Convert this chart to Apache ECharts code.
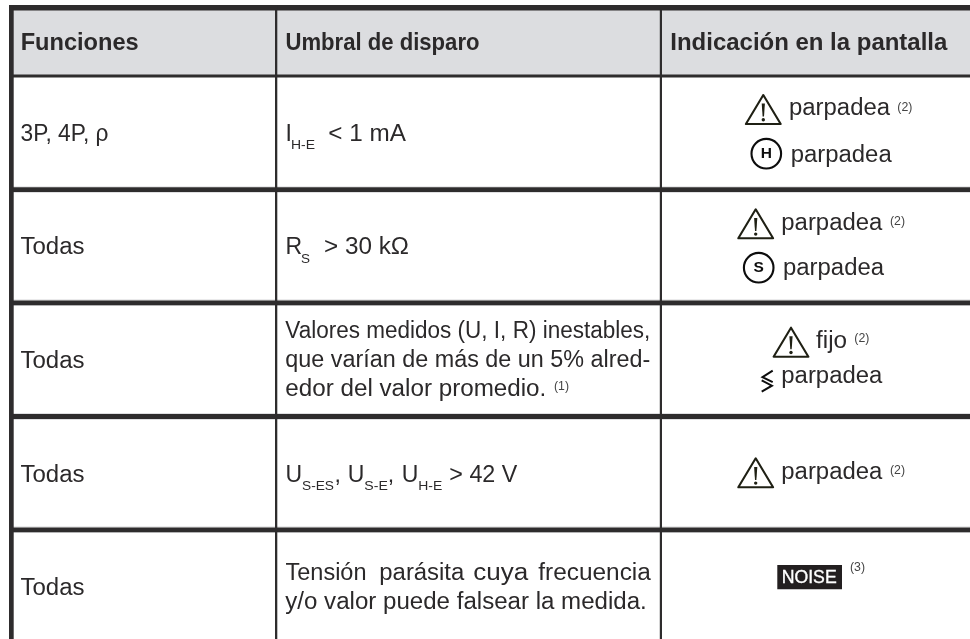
<!DOCTYPE html>
<html><head><meta charset="utf-8">
<style>html,body{margin:0;padding:0;background:#fff}#c{width:970px;height:639px}</style>
<script src="https://cdn.jsdelivr.net/npm/echarts@6/dist/echarts.min.js"></script>
</head><body><div id="c"></div>
<script>
// ---- table content ----
const headers = ['Funciones', 'Umbral de disparo', 'Indicación en la pantalla'];
const functionsCol = ['3P, 4P, ρ', 'Todas', 'Todas', 'Todas', 'Todas'];
const thresholdRow1 = ['I', 'H-E', '< 1 mA'];
const thresholdRow2 = ['R', 'S', '> 30 kΩ'];
const thresholdRow3 = ['Valores medidos (U, I, R) inestables,', 'que varían de más de un 5% alred-', 'edor del valor promedio.', '(1)'];
const thresholdRow4 = ['U', 'S-ES', ',', 'U', 'S-E', ',', 'U', 'H-E', '> 42 V'];
const thresholdRow5 = ['Tensión', 'parásita', 'cuya', 'frecuencia', 'y/o valor puede falsear la medida.'];
const displayWords = ['parpadea', 'fijo', 'NOISE', 'H', 'S'];
const notes = ['(2)', '(3)'];

// ---- layout (pixel scale of the hidden axes) ----
const INK = '#2b292a', SYM = '#1f2014', BLK = '#0d0d0d';
const FF = '"Liberation Sans", Arial, sans-serif';
const colRules = [[275, 277.3], [659.8, 662]];
const rowRules = [[5, 10.4, 9], [74.6, 77.4, 9], [187.2, 192, 9], [300.4, 305.2, 9], [414, 419, 9], [527.4, 532.2, 9]];
const B = 23, SUB = 13.5, SUP = 12.3;
const txt = (t, x, y, size, o) => Object.assign({ k: 't', t, x, y, size, c: INK }, o || {});
const pieces = [
  txt(headers[0], 20.7, 52, 23.4, { w: 118, b: 1 }),
  txt(headers[1], 285.5, 52, 23.4, { w: 194, b: 1 }),
  txt(headers[2], 670.3, 52, 23.4, { w: 277, b: 1 }),

  txt(functionsCol[0], 20.5, 142.7, B, { w: 88 }),
  txt(functionsCol[1], 20.5, 256, B, { w: 64 }),
  txt(functionsCol[2], 20.5, 369.3, B, { w: 64 }),
  txt(functionsCol[3], 20.5, 483.3, B, { w: 64 }),
  txt(functionsCol[4], 20.5, 596.2, B, { w: 64 }),

  txt(thresholdRow1[0], 285.5, 142.7, B),
  txt(thresholdRow1[1], 291, 150, SUB, { w: 24 }),
  txt(thresholdRow1[2], 328.3, 142.7, B, { w: 77.5 }),

  txt(thresholdRow2[0], 285.5, 256, B),
  txt(thresholdRow2[1], 301, 263.5, SUB),
  txt(thresholdRow2[2], 324, 256, B, { w: 85 }),

  txt(thresholdRow3[0], 285.3, 339.3, B, { w: 365 }),
  txt(thresholdRow3[1], 285.3, 368.8, B, { w: 365 }),
  txt(thresholdRow3[2], 285.3, 397.7, B, { w: 261 }),
  txt(thresholdRow3[3], 554, 390.7, SUP, { c: '#444' }),

  txt(thresholdRow4[0], 285.5, 483.3, B),
  txt(thresholdRow4[1], 302, 490.7, SUB, { w: 32 }),
  txt(thresholdRow4[2], 334.4, 483.3, B),
  txt(thresholdRow4[3], 347.7, 483.3, B),
  txt(thresholdRow4[4], 364.3, 490.7, SUB, { w: 23.5 }),
  txt(thresholdRow4[5], 387.7, 483.3, B),
  txt(thresholdRow4[6], 401.7, 483.3, B),
  txt(thresholdRow4[7], 418.3, 490.7, SUB, { w: 24 }),
  txt(thresholdRow4[8], 449.3, 483.3, B, { w: 68 }),

  txt(thresholdRow5[0], 285.5, 581.7, B, { w: 81 }),
  txt(thresholdRow5[1], 379.3, 581.7, B, { w: 85 }),
  txt(thresholdRow5[2], 473.3, 581.7, B, { w: 55 }),
  txt(thresholdRow5[3], 538.3, 581.7, B, { w: 112.5 }),
  txt(thresholdRow5[4], 285.3, 610.2, B, { w: 361.5 }),

  { k: 'warn', x: 763.3, y: 94 },
  txt(displayWords[0], 789, 117, B, { w: 101 }),
  txt(notes[0], 897.3, 111.7, SUP, { c: '#444' }),
  { k: 'circ', x: 766.3, y: 153.7, t: displayWords[3] },
  txt(displayWords[0], 790.7, 163.3, B, { w: 101 }),

  { k: 'warn', x: 755.7, y: 208.3 },
  txt(displayWords[0], 781.3, 231.7, B, { w: 101 }),
  txt(notes[0], 890, 225.7, SUP, { c: '#444' }),
  { k: 'circ', x: 758.7, y: 267.7, t: displayWords[4] },
  txt(displayWords[0], 783, 276.7, B, { w: 101 }),

  { k: 'warn', x: 791, y: 326.7 },
  txt(displayWords[1], 816, 350, B, { w: 31 }),
  txt(notes[0], 854.3, 343.3, SUP, { c: '#444' }),
  { k: 'lessgt', x: 761.7, y: 370.7 },
  txt(displayWords[0], 781.3, 385, B, { w: 101 }),

  { k: 'warn', x: 755.7, y: 457.3 },
  txt(displayWords[0], 781.3, 481, B, { w: 101 }),
  txt(notes[0], 890, 474.7, SUP, { c: '#444' }),

  { k: 'box', x: 777.3, y: 565, w: 64.7, h: 24.3 },
  txt(displayWords[2], 781.7, 584.4, 17.5, { w: 55, c: '#fff', sw: 0.35 }),
  txt(notes[1], 850, 572.3, SUP, { c: '#444' })
];

// ---- rendering ----
const mctx = document.createElement('canvas').getContext('2d');
function textEl(p, api) {
  const pt = api.coord([p.x, p.y]);
  const weight = p.b ? 'bold' : 'normal';
  let scaleX = 1;
  if (p.w) { mctx.font = weight + ' ' + p.size + 'px ' + FF; scaleX = p.w / mctx.measureText(p.t).width; }
  const style = { text: p.t, x: 0, y: 0, fill: p.c, fontFamily: FF, fontSize: p.size, fontWeight: weight, align: 'left', verticalAlign: 'middle' };
  if (p.sw) { style.stroke = p.c; style.lineWidth = p.sw; }
  return { type: 'text', x: pt[0], y: pt[1] - 0.3465 * p.size, scaleX, silent: true, style };
}
function warnEl(p, api) {
  const o = api.coord([p.x, p.y]), x = o[0], y = o[1];
  return { type: 'group', silent: true, children: [
    { type: 'polygon', shape: { points: [[x, y + 1], [x - 17.4, y + 30], [x + 17.4, y + 30]] },
      style: { fill: 'none', stroke: SYM, lineWidth: 2.1, lineJoin: 'round' } },
    { type: 'polygon', shape: { points: [[x - 1.6, y + 9.6], [x + 1.6, y + 9.6], [x + 0.7, y + 22.6], [x - 0.7, y + 22.6]] }, style: { fill: SYM } },
    { type: 'circle', shape: { cx: x, cy: y + 25.8, r: 1.7 }, style: { fill: SYM } }
  ] };
}
function circEl(p, api) {
  const o = api.coord([p.x, p.y]);
  return { type: 'group', silent: true, children: [
    { type: 'circle', shape: { cx: o[0], cy: o[1], r: 14.8 }, style: { fill: 'none', stroke: BLK, lineWidth: 2.1 } },
    { type: 'text', x: o[0], y: o[1] + 0.5, style: { text: p.t, fill: BLK, fontFamily: FF, fontSize: 15.5, fontWeight: 'bold', align: 'center', verticalAlign: 'middle' } }
  ] };
}
function lessgtEl(p, api) {
  const o = api.coord([p.x, p.y]), x = o[0], y = o[1];
  const st = { fill: 'none', stroke: BLK, lineWidth: 2 };
  return { type: 'group', silent: true, children: [
    { type: 'polyline', shape: { points: [[x + 11, y], [x + 0.8, y + 6.4], [x + 11, y + 11.4]] }, style: st },
    { type: 'polyline', shape: { points: [[x, y + 9.6], [x + 10.2, y + 15], [x, y + 21]] }, style: st }
  ] };
}
function boxEl(p, api) {
  const a = api.coord([p.x, p.y]), b = api.coord([p.x + p.w, p.y + p.h]);
  return { type: 'rect', silent: true, shape: { x: a[0], y: a[1], width: b[0] - a[0], height: b[1] - a[1] }, style: { fill: '#231f20' } };
}
const drawers = { t: textEl, warn: warnEl, circ: circEl, lessgt: lessgtEl, box: boxEl };

const ruleFills = ['#2e2c2d', '#dcdde0', '#d6d6d8'];
function rulesItem(params, api) {
  const a = api.coord([api.value(0), api.value(1)]), b = api.coord([api.value(2), api.value(3)]);
  return { type: 'rect', silent: true, shape: { x: a[0], y: a[1], width: b[0] - a[0], height: b[1] - a[1] }, style: { fill: ruleFills[api.value(4)] } };
}
const RIGHT = 970, BOTTOM = 639;
const halos = rowRules.slice(2).reduce((acc, r) => acc.concat([[r[2], r[0] - 0.8, RIGHT, r[0], 2], [r[2], r[1], RIGHT, r[1] + 0.8, 2]]), []);
const ruleData = [[9, 5, RIGHT, 75, 1]]
  .concat(halos)
  .concat(rowRules.map(r => [r[2], r[0], RIGHT, r[1], 0]))
  .concat(colRules.map(c => [c[0], 5, c[1], BOTTOM, 0]))
  .concat([[9, 5, 13.7, BOTTOM, 0]]);

const chart = echarts.init(document.getElementById('c'), null, { renderer: 'canvas', width: 970, height: 639 });
chart.setOption({
  animation: false,
  backgroundColor: '#ffffff',
  grid: { left: 0, right: 0, top: 0, bottom: 0 },
  tooltip: { show: false },
  xAxis: { type: 'value', min: 0, max: 970, show: false },
  yAxis: { type: 'value', min: 0, max: 639, inverse: true, show: false },
  series: [
    { type: 'custom', name: 'rules', coordinateSystem: 'cartesian2d', clip: false, silent: true, renderItem: rulesItem,
      encode: { x: [0, 2], y: [1, 3] }, data: ruleData },
    { type: 'custom', name: 'cells', coordinateSystem: 'cartesian2d', clip: false, silent: true, z: 3,
      renderItem: (params, api) => { const p = pieces[params.dataIndex]; return drawers[p.k](p, api); },
      encode: { x: 0, y: 1 }, data: pieces.map(p => [p.x, p.y]) }
  ]
});
</script></body></html>
